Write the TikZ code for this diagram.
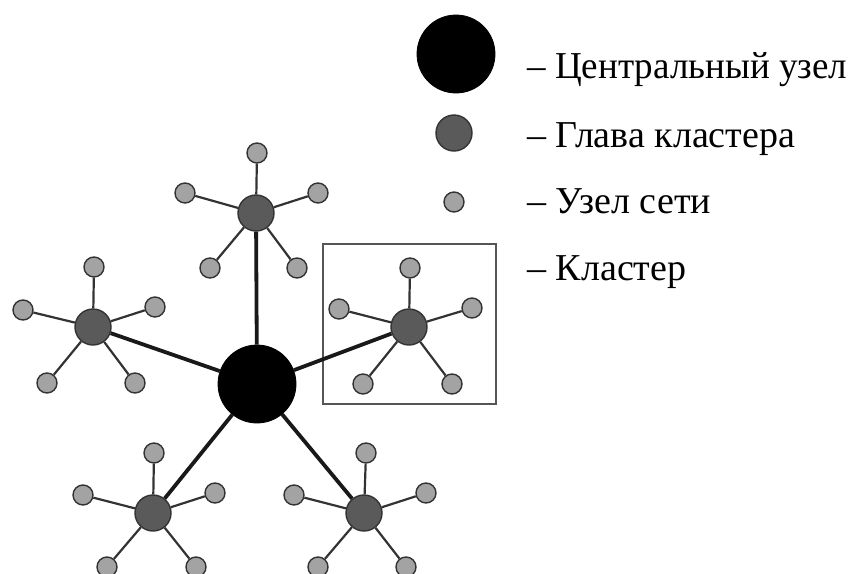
\documentclass[tikz,border=0pt]{standalone}
\usepackage{fontspec}
\setmainfont{Liberation Serif}
\begin{document}
\begin{tikzpicture}[x=0.5pt,y=-0.5pt,
  center/.style={circle,fill=black,draw=black,minimum size=39pt,inner sep=0pt},
  head/.style={circle,fill=headgray,draw=linegray,line width=0.7pt,minimum size=18pt,inner sep=0pt},
  leaf/.style={circle,fill=leafgray,draw=linegray,line width=0.7pt,minimum size=10pt,inner sep=0pt},
  mainlink/.style={line width=1.9pt,draw=black!90},
  leaflink/.style={line width=1.1pt,draw=linegray},
  legendtext/.style={anchor=base west,inner sep=0pt,font=\fontsize{19}{23}\selectfont}]
\definecolor{headgray}{HTML}{5A5A5A}
\definecolor{leafgray}{HTML}{A3A3A3}
\definecolor{linegray}{HTML}{333333}
\definecolor{boxgray}{HTML}{555555}
\useasboundingbox (0,0) rectangle (853,574);
\clip (0,0) rectangle (853,574);
% cluster box
\node[draw=boxgray,line width=1pt,minimum width=86.5pt,minimum height=80pt,inner sep=0pt] (box) at (409.5,324) {};
% central node
\node[center] (c) at (257,384) {};
% cluster heads
\node[head] (t) at (256,213) {};
\node[head] (l) at (93,327) {};
\node[head] (r) at (409,327) {};
\node[head] (bl) at (153,513) {};
\node[head] (br) at (364,513) {};
% main links
\foreach \h in {t,l,r,bl,br} \draw[mainlink] (c) -- (\h);
% leaves
\foreach \n/\x/\y in {t1/257/153, t2/185/193, t3/318/193, t4/210/268, t5/297/268}
  {\node[leaf] (\n) at (\x,\y) {}; \draw[leaflink] (t) -- (\n);}
\foreach \n/\x/\y in {l1/94/267, l2/23/310, l3/155/307, l4/47/383, l5/135/383}
  {\node[leaf] (\n) at (\x,\y) {}; \draw[leaflink] (l) -- (\n);}
\foreach \n/\x/\y in {r1/410/268, r2/339/309, r3/472/308, r4/363/384, r5/452/384}
  {\node[leaf] (\n) at (\x,\y) {}; \draw[leaflink] (r) -- (\n);}
\foreach \n/\x/\y in {b1/154/453, b2/83/495, b3/215/493, b4/107/567, b5/196/567}
  {\node[leaf] (\n) at (\x,\y) {}; \draw[leaflink] (bl) -- (\n);}
\foreach \n/\x/\y in {s1/366/453, s2/294/495, s3/426/493, s4/318/567, s5/406/567}
  {\node[leaf] (\n) at (\x,\y) {}; \draw[leaflink] (br) -- (\n);}
% legend
\node[center] (lc) at (456,54) {};
\node[head] (lh) at (454,133) {};
\node[leaf] (ll) at (454,202) {};
\node[legendtext] (tc) at (527,78) {\scalebox{0.975}[1]{– Центральный узел}};
\node[legendtext] (th) at (527,147) {– Глава кластера};
\node[legendtext] (tl) at (527,213) {– Узел сети};
\node[legendtext] (tb) at (527,280) {– Кластер};
\end{tikzpicture}
\end{document}
